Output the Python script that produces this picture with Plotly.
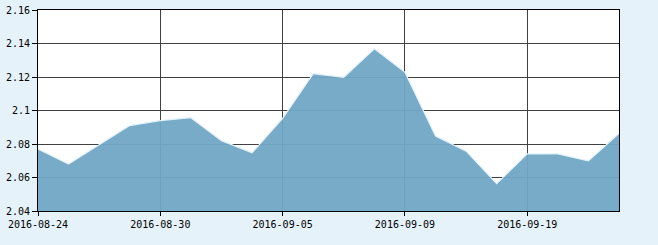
import plotly.graph_objects as go

dates = ["2016-08-24", "2016-08-25", "2016-08-26", "2016-08-29", "2016-08-30",
         "2016-08-31", "2016-09-01", "2016-09-02", "2016-09-05", "2016-09-06",
         "2016-09-07", "2016-09-08", "2016-09-09", "2016-09-12", "2016-09-13",
         "2016-09-14", "2016-09-19", "2016-09-20", "2016-09-21", "2016-09-22"]
values = [2.077, 2.068, 2.0795, 2.091, 2.094, 2.0957, 2.082, 2.0747, 2.0953, 2.122,
          2.1198, 2.1368, 2.1228, 2.0847, 2.0757, 2.0563, 2.0741, 2.0741, 2.0699, 2.0863]
x_tick_labels = ["2016-08-24", "2016-08-30", "2016-09-05", "2016-09-09", "2016-09-19"]
y_tick_vals = [2.04, 2.06, 2.08, 2.10, 2.12, 2.14, 2.16]
y_tick_text = ["2.04", "2.06", "2.08", "2.1", "2.12", "2.14", "2.16"]

fig = go.Figure()
fig.add_trace(go.Scatter(
    x=dates, y=values, mode="lines", fill="tozeroy",
    fillcolor="rgba(112,166,197,0.95)",
    line=dict(color="rgba(225,240,250,1)", width=1.2),
    hoverinfo="x+y",
))

font = dict(family="DejaVu Sans Mono", size=10, color="#000")

fig.update_layout(
    width=658, height=245,
    margin=dict(l=38, r=39, t=10, b=34, autoexpand=False),
    paper_bgcolor="#E6F2FA",
    plot_bgcolor="#FFFFFF",
    showlegend=False,
    font=font,
    xaxis=dict(
        type="category", range=[0, len(dates) - 1], automargin=False,
        tickvals=x_tick_labels, ticktext=x_tick_labels,
        showgrid=True, gridcolor="#404040", gridwidth=1,
        ticks="outside", ticklen=4, tickcolor="#000", tickwidth=1,
        showline=True, linecolor="#000", linewidth=1, mirror=True,
        tickfont=font, zeroline=False,
    ),
    yaxis=dict(
        range=[2.04, 2.16], automargin=False,
        tickvals=y_tick_vals, ticktext=y_tick_text,
        showgrid=True, gridcolor="#404040", gridwidth=1,
        ticks="outside", ticklen=5, tickcolor="#000", tickwidth=1,
        showline=True, linecolor="#000", linewidth=1, mirror=True,
        tickfont=font, zeroline=False,
    ),
)

fig.write_html("out.html")
